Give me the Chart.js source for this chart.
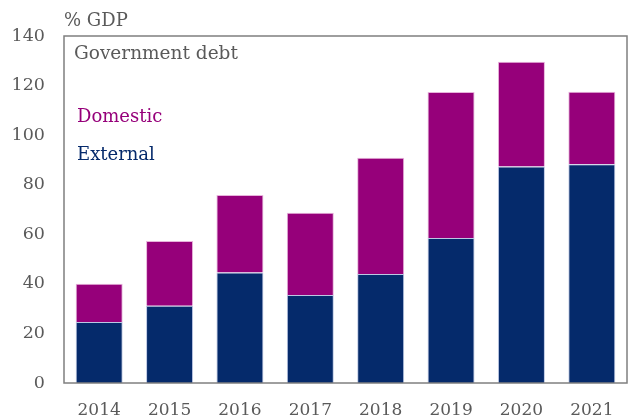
<!DOCTYPE html>
<html>
<head>
<meta charset="utf-8">
<script src="https://cdn.jsdelivr.net/npm/chart.js@4"></script>
<style>
  html, body { margin: 0; padding: 0; background: #fff; }
  #wrap { width: 637px; height: 418px; }
</style>
</head>
<body>
<div id="wrap"><canvas id="c" width="637" height="418"></canvas></div>
<script>
// Government debt, % of GDP, split by holder
const years = ['2014', '2015', '2016', '2017', '2018', '2019', '2020', '2021'];
const external = [24.6, 31.2, 44.6, 35.5, 44.0, 58.5, 87.3, 88.3];
const domestic = [15.4, 26.1, 31.2, 33.2, 46.9, 58.9, 42.3, 29.2];
const yTicks = [0, 20, 40, 60, 80, 100, 120, 140];

const NAVY = '#052a6b';
const PURPLE = '#96007a';
const TEXT = '#5a5a5a';
const FONT = '"DejaVu Serif", "Liberation Serif", serif';

// Frame around the plot area plus the in-chart title, legend and unit label
const decorations = {
  id: 'decorations',
  afterDraw(chart) {
    const { ctx, chartArea: a } = chart;
    ctx.save();
    ctx.strokeStyle = '#7f7f7f';
    ctx.lineWidth = 1.5;
    ctx.strokeRect(a.left, a.top, a.right - a.left, a.bottom - a.top);

    ctx.textBaseline = 'middle';
    ctx.textAlign = 'left';
    ctx.font = '18px ' + FONT;
    ctx.fillStyle = TEXT;
    ctx.fillText('% GDP', a.left, a.top - 15);

    ctx.font = '18.5px ' + FONT;
    ctx.fillText('Government debt', a.left + 10, a.top + 18);

    const ds = chart.data.datasets;
    ctx.font = '18px ' + FONT;
    ctx.fillStyle = ds[1].backgroundColor;
    ctx.fillText(ds[1].label, a.left + 13, a.top + 81);
    ctx.fillStyle = ds[0].backgroundColor;
    ctx.fillText(ds[0].label, a.left + 13, a.top + 119);
    ctx.restore();
  }
};

new Chart(document.getElementById('c'), {
  type: 'bar',
  data: {
    labels: years,
    datasets: [
      { label: 'External', data: external, backgroundColor: NAVY,
        borderColor: 'rgba(160,175,215,0.7)', borderWidth: 1, borderSkipped: 'bottom' },
      { label: 'Domestic', data: domestic, backgroundColor: PURPLE,
        borderColor: 'rgba(225,160,210,0.8)', borderWidth: 1, borderSkipped: 'bottom' }
    ]
  },
  options: {
    responsive: false,
    animation: false,
    layout: { padding: { top: 36, right: 10, left: 0, bottom: 0 } },
    datasets: { bar: { categoryPercentage: 0.8, barPercentage: 0.835 } },
    plugins: { legend: { display: false }, tooltip: { enabled: false } },
    scales: {
      x: {
        stacked: true,
        grid: { display: false, drawTicks: false },
        border: { display: false },
        ticks: { color: TEXT, font: { family: FONT, size: 17 }, padding: 17 },
        afterFit(s) { s.height = 35; }
      },
      y: {
        stacked: true,
        min: 0, max: 140,
        grid: { display: false, drawTicks: false },
        border: { display: false },
        afterBuildTicks(s) { s.ticks = yTicks.map(v => ({ value: v })); },
        ticks: { color: TEXT, font: { family: FONT, size: 17.5 }, padding: 19 },
        afterFit(s) { s.width = 64; }
      }
    }
  },
  plugins: [decorations]
});
</script>
</body>
</html>
